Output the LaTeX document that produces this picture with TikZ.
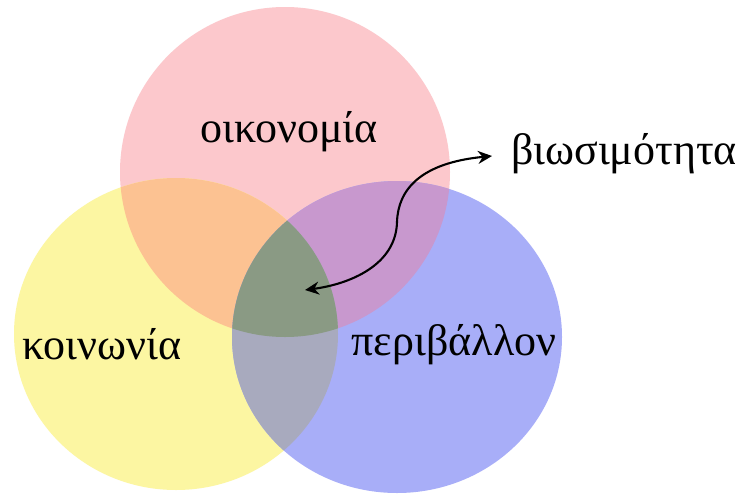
\documentclass[tikz,border=0pt]{standalone}
\usepackage{fontspec}
\setmainfont{Liberation Serif}
\usetikzlibrary{arrows.meta}
\definecolor{cred}{HTML}{FCC8CC}
\definecolor{cyel}{HTML}{FCF6A2}
\definecolor{cblu}{HTML}{A8AEF8}
\definecolor{cry}{HTML}{FCC292}
\definecolor{crb}{HTML}{C898CE}
\definecolor{cyb}{HTML}{A8AABE}
\definecolor{call}{HTML}{8A9A84}
\tikzset{
  lbl/.style={font=\fontsize{44}{46}\selectfont, text=black, inner sep=0pt},
  arr/.style={line width=2.1pt, {Stealth[length=14pt,width=13pt]}-{Stealth[length=14pt,width=13pt]}}
}
\begin{document}
\begin{tikzpicture}[x=1pt,y=-1pt]
\useasboundingbox (0,0) rectangle (736,493);
\fill[white] (0,0) rectangle (736,493);
\def\red{(285,172) ellipse [x radius=165, y radius=165]}
\def\yel{(176,334) ellipse [x radius=162, y radius=156]}
\def\blu{(397,337) ellipse [x radius=165, y radius=156]}
\fill[cred] \red;
\fill[cyel] \yel;
\fill[cblu] \blu;
\begin{scope}\clip \red; \fill[cry] \yel; \end{scope}
\begin{scope}\clip \red; \fill[crb] \blu; \end{scope}
\begin{scope}\clip \yel; \fill[cyb] \blu; \end{scope}
\begin{scope}\clip \red; \clip \yel; \fill[call] \blu; \end{scope}
\node[lbl] (eco) at (289,132) {οικονομία};
\node[lbl] (soc) at (102,344) {κοινωνία};
\node[lbl] (env) at (454,345) {περιβάλλον};
\node[lbl, anchor=west] (sus) at (511,154) {βιωσιμότητα};
\coordinate (a) at (305,290);
\coordinate (b) at (492,156);
\draw[arr] (a) .. controls (350,284) and (396,265) .. (397,222)
           .. controls (398,190) and (420,163) .. (b);
\end{tikzpicture}
\end{document}
